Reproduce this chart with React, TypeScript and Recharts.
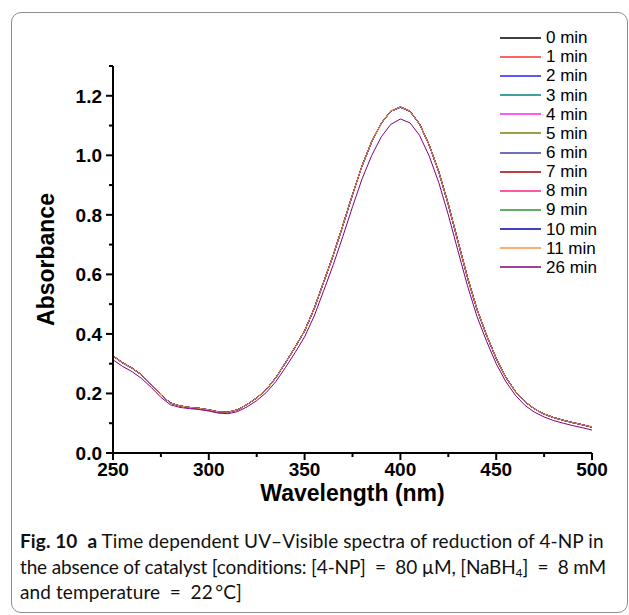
import { LineChart, Line, XAxis, YAxis, Legend } from "recharts"

const wavelengths = [
  250, 255, 260, 265, 270, 275, 280, 285, 290, 295, 300, 305, 310, 315, 320, 325, 330,
  335, 340, 345, 350, 355, 360, 365, 370, 375, 380, 385, 390, 395, 400, 405, 410, 415,
  420, 425, 430, 435, 440, 445, 450, 455, 460, 465, 470, 475, 480, 485, 490, 495, 500,
]

const xTicks = [250, 275, 300, 325, 350, 375, 400, 425, 450, 475, 500]
const yTicks = [0, 0.1, 0.2, 0.3, 0.4, 0.5, 0.6, 0.7, 0.8, 0.9, 1.0, 1.1, 1.2, 1.3]

const min0 = [
  0.326, 0.303, 0.285, 0.262, 0.23, 0.195, 0.168, 0.158, 0.153, 0.15, 0.145, 0.138, 0.137, 0.145, 0.163, 0.185, 0.213,
  0.253, 0.303, 0.355, 0.41, 0.485, 0.575, 0.665, 0.765, 0.868, 0.965, 1.045, 1.108, 1.148, 1.162, 1.148, 1.105, 1.035,
  0.945, 0.835, 0.712, 0.59, 0.482, 0.395, 0.318, 0.255, 0.207, 0.172, 0.148, 0.131, 0.119, 0.11, 0.102, 0.095, 0.087,
]
const min1 = [
  0.327, 0.303, 0.285, 0.262, 0.231, 0.195, 0.168, 0.158, 0.153, 0.15, 0.145, 0.139, 0.137, 0.145, 0.163, 0.185, 0.213,
  0.253, 0.303, 0.356, 0.41, 0.485, 0.575, 0.666, 0.765, 0.868, 0.965, 1.046, 1.108, 1.149, 1.163, 1.148, 1.105, 1.035,
  0.946, 0.835, 0.712, 0.59, 0.482, 0.395, 0.318, 0.255, 0.207, 0.172, 0.148, 0.131, 0.119, 0.11, 0.102, 0.095, 0.088,
]
const min2 = [
  0.326, 0.302, 0.284, 0.262, 0.23, 0.195, 0.168, 0.158, 0.153, 0.15, 0.145, 0.138, 0.137, 0.145, 0.163, 0.185, 0.213,
  0.253, 0.302, 0.355, 0.41, 0.485, 0.575, 0.665, 0.765, 0.867, 0.965, 1.045, 1.107, 1.148, 1.162, 1.147, 1.105, 1.035,
  0.945, 0.835, 0.712, 0.59, 0.482, 0.395, 0.318, 0.255, 0.207, 0.172, 0.148, 0.131, 0.119, 0.11, 0.102, 0.095, 0.087,
]
const min3 = [
  0.325, 0.303, 0.285, 0.262, 0.23, 0.195, 0.168, 0.158, 0.153, 0.15, 0.145, 0.138, 0.137, 0.145, 0.163, 0.185, 0.213,
  0.253, 0.303, 0.355, 0.41, 0.485, 0.575, 0.665, 0.765, 0.868, 0.965, 1.045, 1.108, 1.148, 1.161, 1.148, 1.105, 1.034,
  0.945, 0.835, 0.711, 0.59, 0.482, 0.395, 0.318, 0.255, 0.207, 0.172, 0.148, 0.131, 0.119, 0.11, 0.102, 0.094, 0.087,
]
const min4 = [
  0.326, 0.303, 0.285, 0.263, 0.23, 0.195, 0.168, 0.158, 0.153, 0.15, 0.145, 0.138, 0.137, 0.145, 0.163, 0.185, 0.213,
  0.253, 0.303, 0.355, 0.411, 0.485, 0.575, 0.665, 0.765, 0.868, 0.966, 1.045, 1.108, 1.148, 1.162, 1.148, 1.106, 1.035,
  0.945, 0.836, 0.712, 0.59, 0.482, 0.395, 0.318, 0.255, 0.207, 0.172, 0.148, 0.131, 0.119, 0.11, 0.102, 0.095, 0.087,
]
const min5 = [
  0.326, 0.303, 0.285, 0.262, 0.23, 0.195, 0.168, 0.158, 0.153, 0.15, 0.145, 0.138, 0.137, 0.145, 0.163, 0.185, 0.213,
  0.253, 0.303, 0.355, 0.41, 0.485, 0.575, 0.665, 0.765, 0.868, 0.965, 1.045, 1.108, 1.148, 1.162, 1.148, 1.105, 1.035,
  0.945, 0.835, 0.712, 0.59, 0.482, 0.395, 0.318, 0.255, 0.207, 0.172, 0.148, 0.131, 0.119, 0.11, 0.102, 0.095, 0.087,
]
const min6 = [
  0.326, 0.303, 0.285, 0.262, 0.23, 0.195, 0.168, 0.158, 0.153, 0.15, 0.145, 0.138, 0.136, 0.145, 0.163, 0.185, 0.213,
  0.253, 0.303, 0.355, 0.41, 0.485, 0.575, 0.665, 0.764, 0.868, 0.965, 1.045, 1.108, 1.148, 1.162, 1.148, 1.105, 1.035,
  0.945, 0.835, 0.712, 0.59, 0.482, 0.395, 0.318, 0.254, 0.207, 0.172, 0.148, 0.131, 0.119, 0.11, 0.102, 0.095, 0.087,
]
const min7 = [
  0.327, 0.304, 0.285, 0.262, 0.23, 0.195, 0.168, 0.158, 0.153, 0.15, 0.145, 0.138, 0.137, 0.145, 0.163, 0.185, 0.213,
  0.254, 0.303, 0.355, 0.41, 0.486, 0.576, 0.665, 0.765, 0.868, 0.965, 1.045, 1.108, 1.148, 1.163, 1.149, 1.105, 1.035,
  0.945, 0.835, 0.712, 0.59, 0.482, 0.395, 0.318, 0.255, 0.207, 0.172, 0.148, 0.131, 0.119, 0.11, 0.102, 0.095, 0.087,
]
const min8 = [
  0.326, 0.303, 0.285, 0.262, 0.23, 0.195, 0.168, 0.158, 0.153, 0.15, 0.145, 0.138, 0.137, 0.145, 0.163, 0.185, 0.213,
  0.253, 0.303, 0.355, 0.41, 0.485, 0.575, 0.665, 0.765, 0.868, 0.965, 1.045, 1.108, 1.148, 1.162, 1.148, 1.105, 1.035,
  0.944, 0.835, 0.712, 0.589, 0.482, 0.395, 0.318, 0.255, 0.207, 0.172, 0.148, 0.131, 0.119, 0.11, 0.102, 0.095, 0.087,
]
const min9 = [
  0.326, 0.303, 0.285, 0.262, 0.23, 0.195, 0.168, 0.158, 0.153, 0.15, 0.145, 0.138, 0.137, 0.145, 0.163, 0.185, 0.213,
  0.253, 0.303, 0.355, 0.41, 0.485, 0.575, 0.665, 0.765, 0.868, 0.965, 1.045, 1.108, 1.148, 1.162, 1.148, 1.105, 1.035,
  0.945, 0.835, 0.712, 0.59, 0.482, 0.395, 0.318, 0.255, 0.207, 0.172, 0.148, 0.131, 0.119, 0.11, 0.102, 0.095, 0.087,
]
const min10 = [
  0.326, 0.303, 0.285, 0.262, 0.23, 0.195, 0.168, 0.158, 0.153, 0.15, 0.145, 0.138, 0.137, 0.145, 0.163, 0.185, 0.213,
  0.253, 0.303, 0.355, 0.41, 0.485, 0.575, 0.665, 0.765, 0.868, 0.965, 1.045, 1.108, 1.148, 1.161, 1.148, 1.105, 1.035,
  0.945, 0.835, 0.712, 0.59, 0.482, 0.395, 0.318, 0.255, 0.207, 0.172, 0.148, 0.131, 0.119, 0.11, 0.102, 0.095, 0.086,
]
const min11 = [
  0.326, 0.303, 0.285, 0.262, 0.23, 0.195, 0.168, 0.158, 0.153, 0.15, 0.145, 0.138, 0.137, 0.145, 0.163, 0.185, 0.213,
  0.253, 0.303, 0.355, 0.41, 0.485, 0.575, 0.665, 0.765, 0.868, 0.965, 1.045, 1.108, 1.148, 1.162, 1.148, 1.105, 1.035,
  0.945, 0.835, 0.712, 0.59, 0.482, 0.395, 0.318, 0.255, 0.207, 0.172, 0.148, 0.131, 0.119, 0.11, 0.102, 0.095, 0.087,
]
const min26 = [
  0.313, 0.291, 0.273, 0.25, 0.22, 0.187, 0.162, 0.153, 0.149, 0.146, 0.141, 0.134, 0.132, 0.139, 0.155, 0.176, 0.203,
  0.24, 0.287, 0.337, 0.39, 0.46, 0.546, 0.633, 0.728, 0.827, 0.921, 0.999, 1.062, 1.104, 1.122, 1.109, 1.067, 0.998,
  0.909, 0.8, 0.68, 0.562, 0.458, 0.375, 0.3, 0.24, 0.194, 0.16, 0.137, 0.121, 0.109, 0.1, 0.092, 0.085, 0.077,
]

const seriesNames = ["0 min", "1 min", "2 min", "3 min", "4 min", "5 min", "6 min", "7 min", "8 min", "9 min", "10 min", "11 min", "26 min"]
const seriesValues = [min0, min1, min2, min3, min4, min5, min6, min7, min8, min9, min10, min11, min26]
const seriesColors = [
  "#000000", "#ff3030", "#2020ff", "#008080", "#ff20ff", "#808000",
  "#4040a0", "#a00000", "#ff2080", "#309030", "#0000b0", "#ff9040", "#800080",
]

const data = wavelengths.map((w, i) => {
  const row: Record<string, number> = { wavelength: w }
  seriesNames.forEach((name, s) => {
    row[name] = seriesValues[s][i]
  })
  return row
})

const tickFont = "'Liberation Sans', Arial, sans-serif"

function YTick({ x, y, payload }: any) {
  const v = payload.value
  const major = Math.round(v * 10) % 2 === 0
  return (
    <g>
      <line x1={x} x2={x - (major ? 7 : 4)} y1={y} y2={y} stroke="#000" strokeWidth={2} />
      {major && (
        <text x={x - 11} y={y} dy="0.36em" textAnchor="end" fontFamily={tickFont} fontWeight="bold" fontSize={19} fill="#000">
          {v.toFixed(1)}
        </text>
      )}
    </g>
  )
}

function XTick({ x, y, payload }: any) {
  const v = payload.value
  const major = v % 50 === 0
  return (
    <g>
      <line x1={x} x2={x} y1={y} y2={y + (major ? 7 : 4)} stroke="#000" strokeWidth={2} />
      {major && (
        <text x={x} y={y + 16} dy="0.36em" textAnchor="middle" fontFamily={tickFont} fontWeight="bold" fontSize={19} fill="#000">
          {v}
        </text>
      )}
    </g>
  )
}

function renderLegend() {
  return (
    <div style={{ fontFamily: tickFont, fontSize: 17, color: "#000" }}>
      {seriesNames.map((name, i) => (
        <div key={name} style={{ height: 19.17, display: "flex", alignItems: "center" }}>
          <svg width={41} height={4} style={{ display: "block" }}>
            <line x1={0} x2={41} y1={2} y2={2} stroke={seriesColors[i]} strokeWidth={1.3} />
          </svg>
          <span style={{ marginLeft: 5, lineHeight: "19px" }}>{name}</span>
        </div>
      ))}
    </div>
  )
}

export default function App() {
  return (
    <div style={{ position: "absolute", left: 0, top: 0, width: 629, height: 615, background: "#fff" }}>
      <div
        style={{
          position: "absolute",
          left: 11,
          top: 12,
          width: 615,
          height: 599,
          border: "1px solid #8c8c8c",
          borderRadius: 10,
        }}
      />
      <div style={{ position: "absolute", left: 0, top: 0 }}>
        <LineChart width={629} height={520} data={data} margin={{ top: 66, right: 37, bottom: 0, left: 0 }}>
          <XAxis
            dataKey="wavelength"
            type="number"
            domain={[250, 500]}
            ticks={xTicks}
            interval={0}
            height={67}
            tickSize={0}
            tickMargin={0}
            tickLine={false}
            axisLine={{ stroke: "#000", strokeWidth: 2 }}
            tick={<XTick />}
            label={{
              value: "Wavelength (nm)",
              position: "insideBottom",
              offset: 19,
              style: { fontFamily: tickFont, fontWeight: "bold", fontSize: 23, fill: "#000" },
            }}
          />
          <YAxis
            type="number"
            domain={[0, 1.3]}
            ticks={yTicks}
            interval={0}
            width={113}
            tickSize={0}
            tickMargin={0}
            tickLine={false}
            axisLine={{ stroke: "#000", strokeWidth: 2 }}
            tick={<YTick />}
            label={{
              value: "Absorbance",
              angle: -90,
              position: "insideLeft",
              offset: 46,
              style: { textAnchor: "middle", fontFamily: tickFont, fontWeight: "bold", fontSize: 23, fill: "#000" },
            }}
          />
          <Legend
            layout="vertical"
            align="center"
            verticalAlign="middle"
            content={renderLegend}
            wrapperStyle={{ left: 500, top: 28, width: 120 }}
          />
          {seriesNames.map((name, i) => (
            <Line
              key={name}
              type="linear"
              dataKey={name}
              stroke={seriesColors[i]}
              strokeWidth={1}
              dot={false}
              activeDot={false}
              isAnimationActive={false}
            />
          ))}
        </LineChart>
      </div>
      <div
        style={{
          position: "absolute",
          left: 20,
          top: 528,
          fontFamily: "Lato, 'Open Sans', sans-serif",
          fontSize: 19,
          letterSpacing: 0.1,
          lineHeight: "25.5px",
          color: "#111",
          whiteSpace: "nowrap",
        }}
      >
        <div>
          <b>Fig. 10</b>&nbsp; <b>a</b> Time dependent UV–Visible spectra of reduction of 4-NP in
        </div>
        <div style={{ letterSpacing: -0.15 }}>
          the absence of catalyst [conditions: [4-NP]{"\u2002=\u2002"}80 µM, [NaBH
          <sub style={{ fontSize: 12, lineHeight: 0, verticalAlign: "-3px" }}>4</sub>]{"\u2002=\u2002"}8 mM
        </div>
        <div>and temperature{"\u2002=\u2002"}22{"\u2009"}°C]</div>
      </div>
    </div>
  )
}
